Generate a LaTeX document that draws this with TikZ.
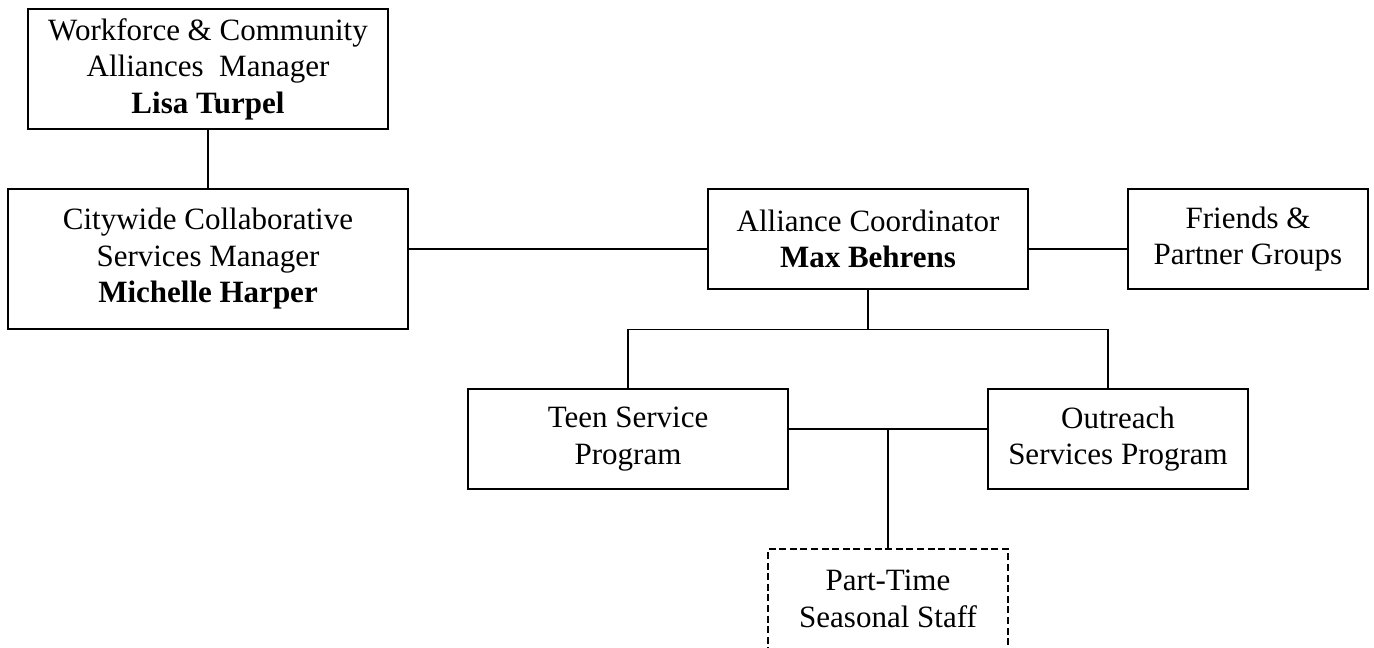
\documentclass[tikz,border=0pt]{standalone}
\usepackage{fontspec}
\setmainfont{Liberation Serif}
\begin{document}
\begin{tikzpicture}[x=0.5pt,y=-0.5pt,
	box/.style={draw, line width=0.6pt, align=center, inner sep=0pt,
		font=\fontsize{15.5}{18.25}\selectfont},
	parttimebox/.style={box, dash pattern=on 3.5pt off 1.8pt},
	link/.style={line width=0.6pt}]
			%%%%% START %%%%%
			
			\clip (0, 0) rectangle (1374, 647);
			
			\node[box, minimum width=180pt, minimum height=60pt] (wcam) at (208, 69)
				{Workforce \& Community\\Alliances\ \ Manager\\\textbf{Lisa Turpel}};
			\node[box, minimum width=200pt, minimum height=70pt] (cwcs) at (208, 259)
				{Citywide Collaborative\\Services Manager\\\textbf{Michelle Harper}};
			
			\node[box, minimum width=160pt, minimum height=50pt] (coord) at (868, 239)
				{Alliance Coordinator\\\textbf{Max Behrens}};
			\node[box, minimum width=120pt, minimum height=50pt] (friends) at (1248, 239)
				{Friends \&\\Partner Groups};
			
			\node[box, minimum width=160pt, minimum height=50pt] (teen) at (628, 439)
				{Teen Service\\Program};
			\node[box, minimum width=130pt, minimum height=50pt] (outreach) at (1118, 439)
				{Outreach\\Services Program};
			
			\node[parttimebox, minimum width=120pt, minimum height=50pt] (parttime) at (888, 599)
				{Part-Time\\Seasonal Staff};
			
			\draw[link] (wcam.south) -- (cwcs.north);
			\draw[link] ([yshift=-5pt]coord.west) -- ([yshift=-5pt]coord.west -| cwcs.east);
			\draw[link] ([yshift=-5pt]coord.east) -- ([yshift=-5pt]friends.west);
			
			\draw[link] (coord.south) -- ++(0, 40) coordinate (bus);
			\draw[link] (teen.north) |- (bus);
			\draw[link] (bus) -| ([xshift=-5pt]outreach.north);
			
			\draw[link] ([yshift=5pt]teen.east) -- ([yshift=5pt]outreach.west);
			\coordinate (hub) at ([yshift=5pt]teen.east -| parttime.north);
			\draw[link] (hub) -- (parttime.north);
			
			%%%%% END %%%%%
\end{tikzpicture}
\end{document}
